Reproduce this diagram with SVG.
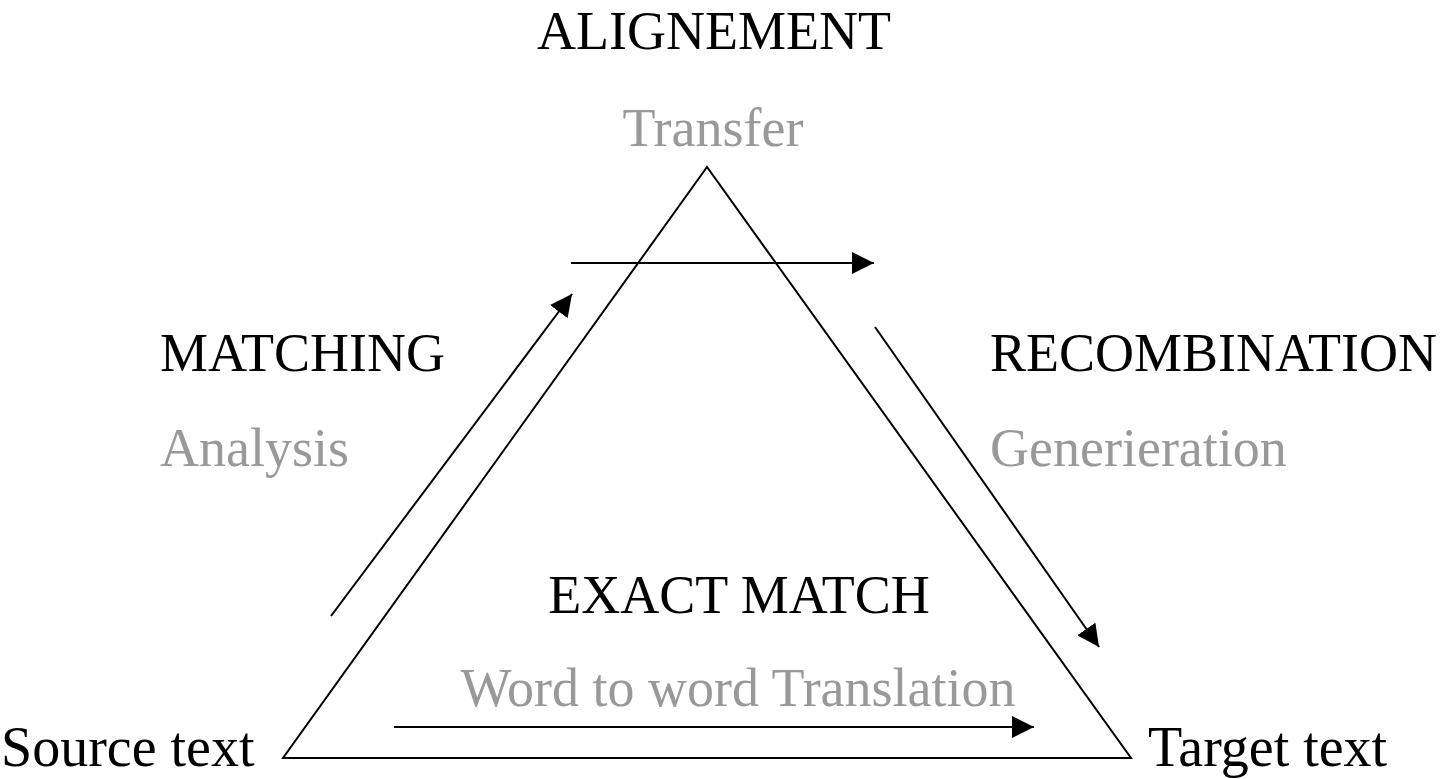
<svg xmlns="http://www.w3.org/2000/svg" width="1440" height="779" viewBox="0 0 1440 779">
<style>
text{font-family:"Liberation Serif","Times New Roman",serif;font-size:54px}
.k{fill:#000}
.g{fill:#999999}
.big{font-size:56px}
.ln{stroke:#000;stroke-width:2;fill:none}
</style>
<defs>
<marker id="ah" markerUnits="userSpaceOnUse" markerWidth="22" markerHeight="22" viewBox="0 0 20 20" refX="20" refY="10" orient="auto">
<polygon points="0,0 20,10 0,20" fill="#000"/>
</marker>
</defs>
<rect width="1440" height="779" fill="#fff"/>
<g id="triangle">
<polygon class="ln" points="707,167 283,758 1131,758"/>
</g>
<g id="connectors">
<line class="ln" x1="331" y1="616" x2="572" y2="294" marker-end="url(#ah)"/>
<line class="ln" x1="571" y1="263" x2="874" y2="263" marker-end="url(#ah)"/>
<line class="ln" x1="875" y1="327" x2="1099" y2="647" marker-end="url(#ah)"/>
<line class="ln" x1="394" y1="727" x2="1034" y2="727" marker-end="url(#ah)"/>
</g>
<g id="alignement"><text class="k" x="714" y="49" text-anchor="middle">ALIGNEMENT</text><text class="g" x="713" y="146" text-anchor="middle">Transfer</text></g>
<g id="matching"><text class="k" x="160" y="371">MATCHING</text><text class="g" x="160" y="466">Analysis</text></g>
<g id="recombination"><text class="k" x="990" y="371">RECOMBINATION</text><text class="g" x="990" y="466">Generieration</text></g>
<g id="exact"><text class="k" x="739" y="613" text-anchor="middle">EXACT MATCH</text><text class="g" x="738" y="706" text-anchor="middle">Word to word Translation</text></g>
<g id="source"><text class="k big" x="1" y="766">Source text</text></g>
<g id="target"><text class="k big" x="1148" y="766">Target text</text></g>
</svg>
